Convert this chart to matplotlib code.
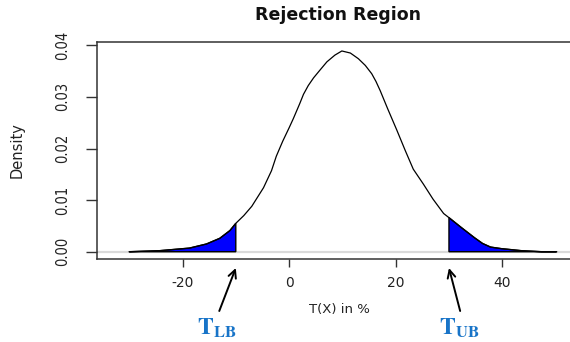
import matplotlib
matplotlib.use("Agg")
import matplotlib.pyplot as plt
import numpy as np

# ---- data ----
curve_x = [-30.0, -24.3, -18.7, -15.5, -13.0, -11.1, -10.0, -8.5, -7.0, -4.8, -3.3, -2.4, -1.2,
           0.0, 0.8, 2.0, 2.7, 3.6, 4.6, 5.8, 7.1, 8.6, 9.9, 11.5, 13.0, 14.3, 15.5, 16.3, 17.1, 18.5, 20.2, 21.8,
           23.3, 25.2, 27.0, 29.0, 30.0, 32.3, 34.8, 36.3, 37.8, 39.8, 43.6, 47.4, 50.2]
curve_y = [0.0000, 0.0002, 0.0007, 0.0015, 0.0026, 0.0041, 0.0055, 0.0070, 0.0088, 0.0124, 0.0157, 0.0185, 0.0214,
           0.0240, 0.0258, 0.0287, 0.0305, 0.0322, 0.0337, 0.0352, 0.0368, 0.0381, 0.0389, 0.0385, 0.0374, 0.0361, 0.0345, 0.0330, 0.0312, 0.0277, 0.0236, 0.0196,
           0.0160, 0.0131, 0.0102, 0.0074, 0.0066, 0.0047, 0.0027, 0.0016, 0.0009, 0.0006, 0.0002, 0.0000, 0.0000]
T_LB = -10.0
T_UB = 30.0
x_ticks = [-20, 0, 20, 40]
y_ticks = [0.00, 0.01, 0.02, 0.03, 0.04]
y_tick_labels = ["0.00", "0.01", "0.02", "0.03", "0.04"]
title = "Rejection Region"
x_label = "T(X) in %"
y_label = "Density"

plt.rcParams['mathtext.fontset'] = 'stix'

W, H = 570, 342
fig = plt.figure(figsize=(W / 100, H / 100), dpi=100)
ax = fig.add_axes([96.7 / W, (H - 259.3) / H, (579 - 96.7) / W, (259.3 - 42.3) / H])

cx = np.array(curve_x)
cy = np.array(curve_y)

ax.axhline(0, color="#d9d9d9", lw=1.6, zorder=1)

# shaded rejection regions
left = cx <= T_LB
px = np.concatenate([cx[left], [cx[left][-1], cx[left][0]]])
py = np.concatenate([cy[left], [0, 0]])
ax.fill(px, py, facecolor="#0000ff", edgecolor="black", lw=1.0, zorder=2)
right = cx >= T_UB
px = np.concatenate([[cx[right][0]], cx[right], [cx[right][-1]]])
py = np.concatenate([[0], cy[right], [0]])
ax.fill(px, py, facecolor="#0000ff", edgecolor="black", lw=1.0, zorder=2)

ax.plot(cx, cy, color="black", lw=0.9, zorder=3)

ax.set_xlim(-36.1, 54.4)
ax.set_ylim(-0.00147, 0.04058)

for s in ["left", "bottom", "top"]:
    ax.spines[s].set_color("#333333")
    ax.spines[s].set_linewidth(1.1)
ax.spines["right"].set_visible(False)

ax.set_xticks(x_ticks)
ax.set_xticklabels([str(v) for v in x_ticks], fontsize=10, color="#222222")
ax.set_yticks(y_ticks)
ax.set_yticklabels(y_tick_labels, fontsize=10.5, color="#222222", rotation=90,
                   va="center", fontstretch="condensed")
ax.tick_params(axis="x", length=6, width=1, color="#333333", pad=6)
ax.tick_params(axis="y", length=8, width=1, color="#333333", pad=11)

fig.text(338 / W, 1 - 15 / H, title, ha="center", va="center", fontsize=12.5,
         fontweight="bold", color="#111111")
fig.text(339 / W, 1 - 310 / H, x_label, ha="center", va="center", fontsize=9.5,
         color="#222222")
fig.text(17 / W, 1 - 150 / H, y_label, ha="center", va="center", fontsize=10.5,
         rotation=90, color="#222222")

blue = "#1874c8"
for thr, tail_x, lab in [(T_LB, -13.1, r"$\mathbf{T}_{\mathbf{LB}}$"),
                         (T_UB, 32.1, r"$\mathbf{T}_{\mathbf{UB}}$")]:
    ax.annotate("", xy=(thr, H - 268), xycoords=("data", "figure pixels"),
                xytext=(tail_x, H - 311), textcoords=("data", "figure pixels"),
                arrowprops=dict(arrowstyle="->", color="black", lw=1.4,
                                mutation_scale=14, shrinkA=0, shrinkB=0),
                annotation_clip=False)
    ax.annotate(lab, xy=(tail_x - 0.4 if thr < 0 else tail_x - 0.2, H - 328),
                xycoords=("data", "figure pixels"),
                ha="center", va="center", fontsize=17, color=blue,
                annotation_clip=False)

fig.savefig("out.png", dpi=100)
